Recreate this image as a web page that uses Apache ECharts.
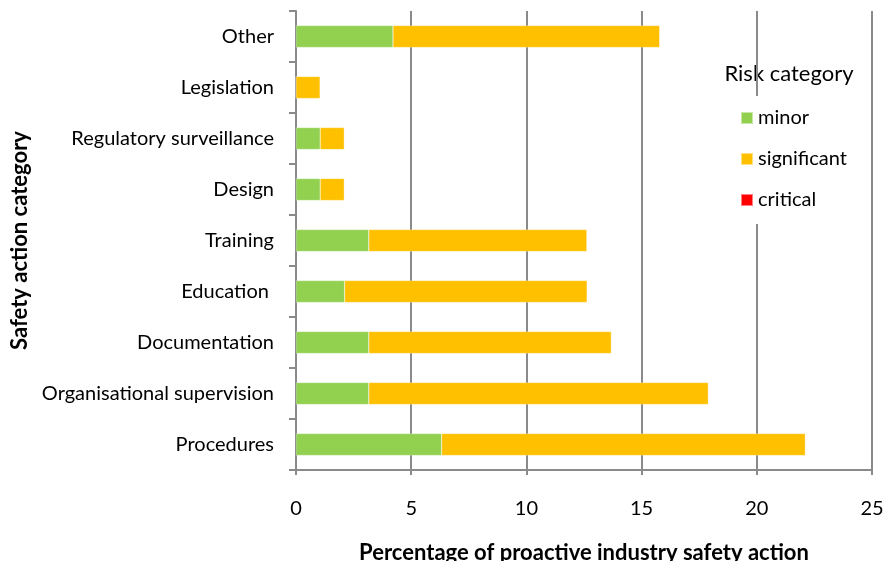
<!DOCTYPE html>
<html>
<head>
<meta charset="utf-8">
<script src="https://cdn.jsdelivr.net/npm/echarts@6/dist/echarts.min.js"></script>
<style>
  html, body { margin: 0; padding: 0; background: #fff; }
  #chart { width: 885px; height: 561px; }
</style>
</head>
<body>
<div id="chart"></div>
<script>
// Safety action categories, listed top to bottom
const categories = [
  'Other',
  'Legislation',
  'Regulatory surveillance',
  'Design',
  'Training',
  'Education ',
  'Documentation',
  'Organisational supervision',
  'Procedures'
];

// Percentage of proactive industry safety action by risk category
const minorValues       = [4.21, 0,    1.05, 1.05, 3.16, 2.11,  3.16,  3.16,  6.32];
const significantValues = [11.58, 1.05, 1.05, 1.05, 9.47, 10.53, 10.53, 14.74, 15.79];
const criticalValues    = [0, 0, 0, 0, 0, 0, 0, 0, 0];

const xTicks = [0, 5, 10, 15, 20, 25];

const seriesNames = ['minor', 'significant', 'critical'];
const seriesColors = ['#92D050', '#FFC000', '#FF0000'];

const FONT = 'Lato, "Liberation Sans", sans-serif';
const AXIS_GREY = '#8a8a8a';

const chart = echarts.init(document.getElementById('chart'), null, { renderer: 'canvas' });

const makeSeries = (name, values, color) => ({
  name,
  type: 'bar',
  stack: 'risk',
  data: values,
  barWidth: 22,
  itemStyle: { color, borderColor: 'rgba(255,255,255,0.5)', borderWidth: 0.5 },
  emphasis: { disabled: true }
});

chart.setOption({
  animation: false,
  backgroundColor: '#ffffff',
  textStyle: { fontFamily: FONT },
  grid: {
    left: 296, right: 13, top: 11, bottom: 91,
    containLabel: false,
    outerBoundsMode: 'none'
  },
  xAxis: {
    type: 'value',
    min: xTicks[0],
    max: xTicks[xTicks.length - 1],
    interval: xTicks[1] - xTicks[0],
    name: 'Percentage of proactive industry safety action',
    nameLocation: 'middle',
    nameGap: 72,
    nameTextStyle: { fontFamily: FONT, fontSize: 22, fontWeight: 'bold', color: '#000' },
    axisLine: { show: true, lineStyle: { color: AXIS_GREY, width: 2 } },
    axisTick: { show: true, length: 5, lineStyle: { color: AXIS_GREY, width: 2 } },
    axisLabel: { margin: 29, fontFamily: FONT, fontSize: 20, color: '#000' },
    splitLine: { show: true, lineStyle: { color: AXIS_GREY, width: 2 } }
  },
  yAxis: {
    type: 'category',
    data: categories,
    inverse: true,
    name: 'Safety action category',
    nameLocation: 'middle',
    nameRotate: 90,
    nameGap: 265,
    nameTextStyle: { fontFamily: FONT, fontSize: 22, fontWeight: 'bold', color: '#000' },
    axisLine: { show: true, lineStyle: { color: AXIS_GREY, width: 2 } },
    axisTick: { show: true, length: 7, lineStyle: { color: AXIS_GREY, width: 2 } },
    axisLabel: { margin: 22, fontFamily: FONT, fontSize: 20, color: '#000', padding: [6, 0, 0, 0] },
    splitLine: { show: false }
  },
  legend: {
    orient: 'vertical',
    left: 730,
    top: 96,
    padding: [12, 12, 14, 10],
    backgroundColor: '#ffffff',
    itemWidth: 12,
    itemHeight: 12,
    itemGap: 21,
    icon: 'rect',
    data: seriesNames,
    textStyle: { fontFamily: FONT, fontSize: 20, color: '#000' },
    z: 20
  },
  graphic: [
    {
      type: 'group',
      z: 100,
      children: [
        {
          type: 'rect',
          shape: { x: 700, y: 48, width: 185, height: 49 },
          style: { fill: '#ffffff' }
        },
        {
          type: 'text',
          x: 789,
          y: 74,
          style: {
            text: 'Risk category',
            fontFamily: FONT,
            fontSize: 22,
            fill: '#000',
            align: 'center',
            verticalAlign: 'middle'
          }
        }
      ]
    }
  ],
  series: [
    makeSeries(seriesNames[0], minorValues, seriesColors[0]),
    makeSeries(seriesNames[1], significantValues, seriesColors[1]),
    makeSeries(seriesNames[2], criticalValues, seriesColors[2])
  ]
});
</script>
</body>
</html>
